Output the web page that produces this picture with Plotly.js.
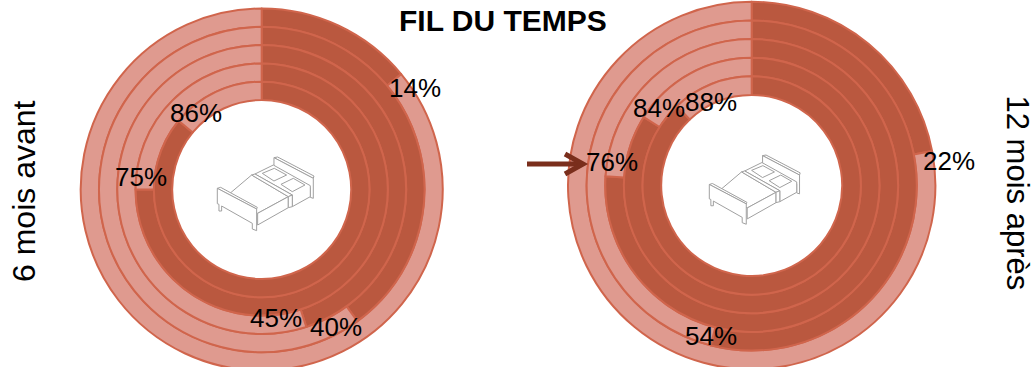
<!DOCTYPE html>
<html lang="fr">
<head>
<meta charset="utf-8">
<title>Fil du temps</title>
<script src="https://cdn.plot.ly/plotly-3.0.1.min.js"></script>
<style>
  html, body { margin: 0; padding: 0; background: #fff; overflow: hidden; width: 1033px; height: 367px; }
</style>
</head>
<body>
<div id="chart"></div>
<script>
// Percentages per ring, outermost ring first
const avant6Mois = [14, 40, 45, 75, 86];
const apres12Mois = [22, 54, 76, 84, 88];
const titre = "FIL DU TEMPS";
const etiquetteAvant = "6 mois avant";
const etiquetteApres = "12 mois après";

const W = 1033, H = 372;
const SOMBRE = "#BA583F", CLAIR = "#DF9A8F", TRAIT = "#D0654C", FLECHE = "#7A2E1C";
const POLICE = "Liberation Sans, Arial, sans-serif";

// Donut geometry in pixels
const donutGauche = { cx: 261.7, cy: 189.5, R: 181, r: 89.5 };
const donutDroit = { cx: 751.7, cy: 185.5, R: 183.7, r: 90.5 };

// Label anchor positions in pixels, same ring order as the values
const posGauche = [[415, 88], [336, 327], [276, 318], [141, 177], [196, 113]];
const posDroit = [[949, 161], [711, 336], [612, 162], [659, 108], [711, 102]];

const px = x => x / W;
const py = y => 1 - y / H;

function anneaux(d, valeurs) {
  const pas = (d.R - d.r) / valeurs.length;
  return valeurs.map((v, i) => {
    const ext = d.R - i * pas;
    const int = ext - pas;
    return {
      type: "pie",
      values: [v, 100 - v],
      sort: false,
      direction: "clockwise",
      rotation: 0,
      hole: int / ext,
      textinfo: "none",
      hoverinfo: "skip",
      showlegend: false,
      marker: { colors: [SOMBRE, CLAIR], line: { color: TRAIT, width: 2 } },
      domain: {
        x: [px(d.cx - ext), px(d.cx + ext)],
        y: [py(d.cy + ext), py(d.cy - ext)]
      }
    };
  });
}

function etiquettes(valeurs, positions) {
  return valeurs.map((v, i) => ({
    text: v + "%",
    x: px(positions[i][0]), y: py(positions[i][1]),
    xref: "paper", yref: "paper",
    xanchor: "center", yanchor: "middle",
    showarrow: false,
    font: { family: POLICE, size: 26, color: "#000" }
  }));
}

// Bed pictogram as polygons on a local grid
const litFaces = [
  [[207,38],[218,36],[327,93],[325,100]],
  [[207,38],[325,100],[325,160],[316,157],[316,128],[207,70]],
  [[150,87],[205,60],[316,122],[316,155],[262,185],[262,150]],
  [[75,145],[140,90],[250,155],[158,205]],
  [[158,205],[250,155],[250,188],[158,240]],
  [[140,90],[150,87],[262,150],[250,155]],
  [[250,155],[262,150],[262,185],[250,188]],
  [[172,85],[208,70],[245,90],[207,108]],
  [[228,118],[265,100],[300,120],[262,140]],
  [[37,130],[47,127],[157,187],[155,192]],
  [[37,130],[155,192],[155,257],[142,252],[142,235],[50,183],[50,198],[42,198],[42,178],[37,176]]
];

function lit(ox, oy, k) {
  return litFaces.map(face => ({
    type: "path",
    xref: "paper", yref: "paper",
    path: face.map((p, i) =>
      (i ? "L" : "M") + px(ox + (p[0] - 37) / 3 * k) + "," + py(oy + (p[1] - 36) / 3 * k)
    ).join(" ") + " Z",
    fillcolor: "#ffffff",
    line: { color: "#a0a0a0", width: 1 }
  }));
}

// Arrow pointing at the third ring of the right donut
const fleche = ["M527,164 L583,164", "M565,154 L583,164 L565,174"].map(d => ({
  type: "path",
  xref: "paper", yref: "paper",
  path: d.replace(/(\d+),(\d+)/g, (m, a, b) => px(+a) + "," + py(+b)),
  line: { color: FLECHE, width: 5 }
}));

const layout = {
  width: W, height: H,
  margin: { l: 0, r: 0, t: 0, b: 0 },
  paper_bgcolor: "#fff",
  showlegend: false,
  shapes: [...lit(217.3, 157, 1), ...lit(709.3, 155, 0.94), ...fleche],
  annotations: [
    ...etiquettes(avant6Mois, posGauche),
    ...etiquettes(apres12Mois, posDroit),
    { text: "<b>" + titre + "</b>", x: px(503), y: py(21), xref: "paper", yref: "paper",
      xanchor: "center", yanchor: "middle", showarrow: false,
      font: { family: POLICE, size: 30, color: "#000" } },
    { text: etiquetteAvant, x: px(24), y: py(191), xref: "paper", yref: "paper",
      xanchor: "center", yanchor: "middle", showarrow: false, textangle: -90,
      font: { family: POLICE, size: 32, color: "#000" } },
    { text: etiquetteApres, x: px(1017), y: py(192.5), xref: "paper", yref: "paper",
      xanchor: "center", yanchor: "middle", showarrow: false, textangle: 90,
      font: { family: POLICE, size: 31, color: "#000" } }
  ]
};

Plotly.newPlot("chart", [...anneaux(donutGauche, avant6Mois), ...anneaux(donutDroit, apres12Mois)], layout,
  { displayModeBar: false, staticPlot: true });
</script>
</body>
</html>
